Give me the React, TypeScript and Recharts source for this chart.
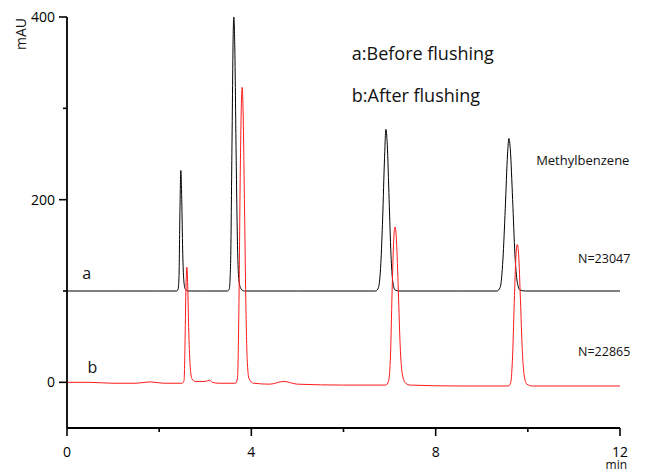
import React from 'react';
import { LineChart, Line, XAxis, YAxis, ReferenceDot } from 'recharts';

// Trace a: before flushing (baseline offset 100 mAU)
const timesA = [
  0, 1.0, 2.0, 2.38, 2.41, 2.43, 2.45, 2.47, 2.49, 2.51, 2.53, 2.56, 2.62,
  3.0, 3.48, 3.52, 3.55, 3.58, 3.61, 3.62, 3.64, 3.67, 3.70, 3.73, 3.78, 3.85,
  5.0, 6.70, 6.76, 6.81, 6.85, 6.89, 6.92, 6.95, 6.99, 7.03, 7.07, 7.12, 7.2,
  8.5, 9.33, 9.40, 9.46, 9.51, 9.56, 9.59, 9.62, 9.67, 9.72, 9.77, 9.83, 9.95,
  11.0, 12.0,
];
const signalA = [
  100, 100, 100, 100, 102, 115, 185, 232, 200, 145, 115, 103, 100,
  100, 100, 102, 130, 260, 390, 400, 370, 250, 150, 112, 102, 100,
  100, 100, 104, 130, 180, 245, 277, 260, 200, 140, 110, 101, 100,
  100, 100, 104, 135, 190, 250, 267, 255, 200, 140, 110, 101, 100,
  100, 100,
];

// Trace b: after flushing
const timesB = [
  0, 0.5, 1.0, 1.5, 1.8, 2.1, 2.50, 2.54, 2.56, 2.58, 2.60, 2.62, 2.64, 2.67, 2.71, 2.78,
  3.0, 3.1, 3.15, 3.3, 3.66, 3.70, 3.73, 3.76, 3.79, 3.80, 3.82, 3.85, 3.88, 3.91, 3.95, 4.05,
  4.4, 4.7, 5.0, 6.0, 6.92, 6.98, 7.02, 7.06, 7.10, 7.12, 7.15, 7.19, 7.23, 7.28, 7.35, 7.45,
  8.5, 9.58, 9.63, 9.67, 9.71, 9.75, 9.77, 9.80, 9.84, 9.88, 9.92, 9.98, 10.1, 11.0, 12.0,
];
const signalB = [
  0, 0, -1, -1, 0.5, -1, -1, 2, 40, 100, 126, 105, 60, 20, 4, 1,
  1, 2.5, 0, -1, -1, 5, 80, 230, 315, 323, 300, 200, 90, 25, 4, -1,
  -2, 1, -2, -3, -3, 2, 30, 110, 165, 170, 155, 100, 40, 8, -1, -3,
  -4, -4, 0, 30, 95, 145, 151, 140, 90, 35, 8, -2, -4, -4, -4,
];

const xTicks = [0, 2, 4, 6, 8, 10, 12];
const xMajor = [0, 4, 8, 12];
const yTicks = [0, 100, 200, 300, 400];
const yMajor = [0, 200, 400];

const notes = [
  { text: 'a:Before flushing', t: 6.18, v: 361, size: 18, anchor: 'start' },
  { text: 'b:After flushing', t: 6.18, v: 315, size: 18, anchor: 'start' },
  { text: 'Methylbenzene', t: 10.18, v: 243, size: 13, anchor: 'start' },
  { text: 'N=23047', t: 11.09, v: 136, size: 12.5, anchor: 'start' },
  { text: 'N=22865', t: 11.09, v: 34, size: 12.5, anchor: 'start' },
  { text: 'a', t: 0.43, v: 120, size: 16, anchor: 'middle' },
  { text: 'b', t: 0.55, v: 17, size: 16, anchor: 'middle' },
  { text: 'min', t: 11.92, v: -90.5, size: 12, anchor: 'middle' },
];

const dataA = timesA.map((t, i) => ({ t, v: signalA[i] }));
const dataB = timesB.map((t, i) => ({ t, v: signalB[i] }));

const FONT = '"Open Sans", "Noto Sans", sans-serif';
const TICK_SIZE = 8;
const TICK_MARGIN = 4;

const YTick = (props: any) => {
  const { x, y, payload } = props;
  const ax = x + TICK_SIZE + TICK_MARGIN;
  const major = yMajor.includes(payload.value);
  return (
    <g>
      <line x1={ax - (major ? 8 : 4)} x2={ax} y1={y} y2={y} stroke="#000" strokeWidth={1.6} />
      {major && (
        <text x={x} y={y} dy={5} textAnchor="end" fontSize={14} fontFamily={FONT} fill="#000">
          {payload.value}
        </text>
      )}
    </g>
  );
};

const XTick = (props: any) => {
  const { x, y, payload } = props;
  const ay = y - TICK_SIZE - TICK_MARGIN;
  const major = xMajor.includes(payload.value);
  return (
    <g>
      <line x1={x} x2={x} y1={ay} y2={ay + (major ? 8 : 4)} stroke="#000" strokeWidth={1.6} />
      {major && (
        <text x={x} y={y} dy={17} textAnchor="middle" fontSize={14} fontFamily={FONT} fill="#000">
          {payload.value}
        </text>
      )}
    </g>
  );
};

const noteShape = (text: string, size: number, anchor: string) => (p: any) => (
  <text
    x={p.cx}
    y={p.cy}
    dominantBaseline="central"
    textAnchor={anchor}
    fontSize={size}
    fontFamily={FONT}
    fill="#111"
  >
    {text}
  </text>
);

export default function App() {
  return (
    <div style={{ position: 'absolute', left: 0, top: 0, background: '#fff' }}>
      <LineChart
        width={653}
        height={473}
        margin={{ top: 17, right: 33, left: 0, bottom: 0 }}
      >
        <XAxis
          dataKey="t"
          type="number"
          domain={[0, 12]}
          ticks={xTicks}
          allowDataOverflow
          height={45}
          tickLine={false}
          tickSize={TICK_SIZE}
          tickMargin={TICK_MARGIN}
          axisLine={{ stroke: '#000', strokeWidth: 1.8 }}
          tick={<XTick />}
          interval={0}
        />
        <YAxis
          type="number"
          domain={[-50, 400]}
          ticks={yTicks}
          allowDataOverflow
          width={67}
          tickLine={false}
          tickSize={TICK_SIZE}
          tickMargin={TICK_MARGIN}
          axisLine={{ stroke: '#000', strokeWidth: 1.8 }}
          tick={<YTick />}
          interval={0}
          label={{
            value: 'mAU',
            position: 'insideTopLeft',
            content: () => (
              <text
                x={20}
                y={34}
                transform="rotate(-90 20 34)"
                textAnchor="middle"
                dominantBaseline="central"
                fontSize={14}
                fontFamily={FONT}
                fill="#111"
              >
                mAU
              </text>
            ),
          }}
        />
        <Line
          data={dataA}
          dataKey="v"
          type="monotone"
          stroke="#000"
          strokeWidth={1}
          dot={false}
          isAnimationActive={false}
        />
        <Line
          data={dataB}
          dataKey="v"
          type="monotone"
          stroke="#ff1a1a"
          strokeWidth={1}
          dot={false}
          isAnimationActive={false}
        />
        {notes.map((n) => (
          <ReferenceDot
            key={n.text}
            x={n.t}
            y={n.v}
            r={0}
            ifOverflow="visible"
            shape={noteShape(n.text, n.size, n.anchor)}
          />
        ))}
      </LineChart>
    </div>
  );
}
